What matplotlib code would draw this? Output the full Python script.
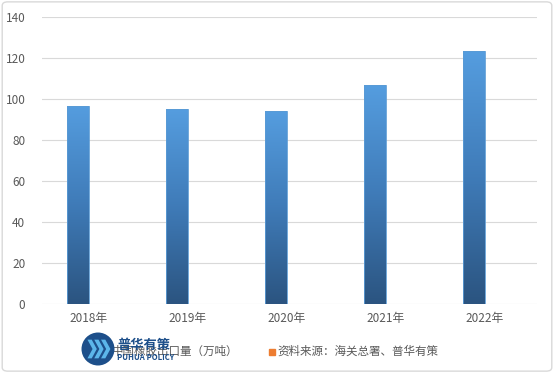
import matplotlib.pyplot as plt
import numpy as np
from matplotlib.patches import FancyBboxPatch, Circle, Polygon
from matplotlib.colors import LinearSegmentedColormap

plt.rcParams["font.family"] = ["Noto Sans CJK SC", "DejaVu Sans"]

# Data
years = ["2018年", "2019年", "2020年", "2021年", "2022年"]
export_volume = [96.6, 95.0, 94.0, 106.8, 123.3]

W, H = 554, 373
fig = plt.figure(figsize=(W / 100, H / 100), dpi=100)
ax = fig.add_axes([42 / W, 1 - 304 / H, 495 / W, 287 / H])

# Figure border
fig.patches.append(FancyBboxPatch((0.004, 0.005), 0.992, 0.99,
                                  boxstyle="round,pad=0,rounding_size=0.01",
                                  transform=fig.transFigure, fill=False,
                                  edgecolor="#d9d9d9", linewidth=1))

x = np.arange(len(years))
bars = ax.bar(x - 0.11, export_volume, width=0.222, color="none",
              edgecolor="#5b9bd5", linewidth=0.6, zorder=3)

# Gradient fill clipped to each bar
cmap = LinearSegmentedColormap.from_list("g", ["#2b5480", "#3f7bb8", "#559ddf"])
grad = np.linspace(0, 1, 256).reshape(-1, 1)
for b in bars:
    x0, w, h = b.get_x(), b.get_width(), b.get_height()
    im = ax.imshow(grad, cmap=cmap, origin="lower", aspect="auto",
                   extent=[x0, x0 + w, 0, h], zorder=2)
    im.set_clip_path(b)

ax.set_xlim(-0.475, 4.525)
ax.set_ylim(0, 140)
ax.set_yticks(range(0, 141, 20))
ax.set_xticks(x)
ax.set_xticklabels(years)
ax.grid(axis="y", color="#d9d9d9", linewidth=0.8, zorder=0)
for s in ax.spines.values():
    s.set_visible(False)
ax.tick_params(length=0, labelsize=8.5, colors="#595959", pad=6)
ax.tick_params(axis="y", pad=12)

# Legend (first entry sits under the logo, as in the source image)
fig.text(238 / W, 1 - 351 / H, "中国橡胶出口量（万吨）", fontsize=8.3,
         color="#595959", va="center", ha="right", zorder=1)
fig.patches.append(plt.Rectangle((269 / W, 1 - 355 / H), 6 / W, 6 / H,
                                 transform=fig.transFigure, color="#ed7d31"))
fig.text(277 / W, 1 - 351 / H, "资料来源：海关总署、普华有策", fontsize=8.3,
         color="#595959", va="center", zorder=1)

# Logo
lax = fig.add_axes([81 / W, 1 - 366 / H, 34 / W, 34 / H], zorder=5)
lax.set_xlim(-1, 1)
lax.set_ylim(-1, 1)
lax.set_aspect("equal")
lax.axis("off")
lax.add_patch(Circle((0, 0), 0.97, facecolor="#1d4f8a", edgecolor="none"))
for dx in (-0.62, -0.22, 0.18):
    pts = [(dx, 0.55), (dx + 0.25, 0.55), (dx + 0.55, 0.0),
           (dx + 0.25, -0.55), (dx, -0.55), (dx + 0.3, 0.0)]
    lax.add_patch(Polygon(pts, closed=True, facecolor="#5cb6ea",
                          edgecolor="none"))
fig.text(117 / W, 1 - 345 / H, "普华有策", fontsize=9.5, fontweight="bold",
         color="#1d4f8a", va="center", zorder=7)
fig.text(117 / W, 1 - 358 / H, "PUHUA POLICY", fontsize=5.6, fontweight="bold",
         color="#1d4f8a", va="center", zorder=7)

fig.savefig("out.png", dpi=100)
